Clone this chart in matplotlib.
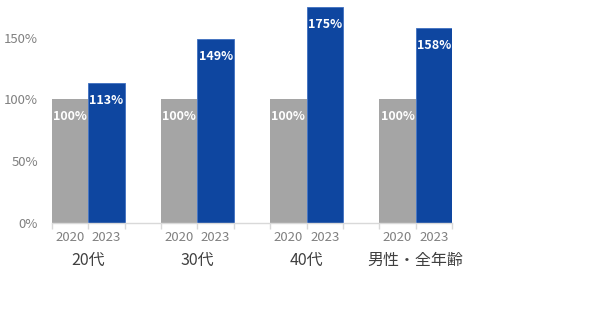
import matplotlib
matplotlib.use("Agg")
import matplotlib.pyplot as plt
import matplotlib.transforms as mtransforms

plt.rcParams['font.family'] = ['Noto Sans CJK JP', 'DejaVu Sans']

groups = ["20代", "30代", "40代", "男性・全年齢"]
years = ["2020", "2023"]
values_2020 = [100, 100, 100, 100]
values_2023 = [113, 149, 175, 158]
yticks = [0, 50, 100, 150]
ytick_labels = ["0%", "50%", "100%", "150%"]

gray = "#A5A5A5"
blue = "#0E46A0"
axis_gray = "#D9D9D9"
tick_text = "#808080"
group_text = "#404040"

fig = plt.figure(figsize=(6.04, 3.23), dpi=100)
ax = fig.add_axes([52 / 604, 100.5 / 323, 400 / 604, 221.5 / 323])

# each group occupies three category slots: 2020, 2023, and an empty spacer
n_slots = len(groups) * 3 - 1
x2020 = [g * 3 for g in range(len(groups))]
x2023 = [g * 3 + 1 for g in range(len(groups))]

b1 = ax.bar(x2020, values_2020, width=1.0, color=gray, edgecolor='none')
b2 = ax.bar(x2023, values_2023, width=1.0, color=blue, edgecolor='#3F6FC0', linewidth=0.6)

for bars, vals in ((b1, values_2020), (b2, values_2023)):
    for rect, v in zip(bars, vals):
        ax.annotate(f"{v}%", (rect.get_x() + rect.get_width() / 2, v),
                    xytext=(0, -12.5), textcoords='offset points',
                    ha='center', va='center', color='white',
                    fontsize=9, fontweight='bold')

ax.set_xlim(-0.5, n_slots - 0.5)
ax.set_ylim(0, 180)

ax.set_yticks(yticks)
ax.set_yticklabels(ytick_labels)
ax.tick_params(axis='y', length=0, pad=10, labelsize=9.5, labelcolor=tick_text)

# tick marks at every slot boundary, year labels at bar centres
ax.set_xticks([i - 0.5 for i in range(n_slots + 1)])
ax.set_xticklabels([])
ax.tick_params(axis='x', which='major', length=4, width=1, color=axis_gray)
minor_pos = []
minor_lab = []
for g in range(len(groups)):
    minor_pos += [g * 3, g * 3 + 1]
    minor_lab += years
ax.set_xticks(minor_pos, minor=True)
ax.set_xticklabels(minor_lab, minor=True)
ax.tick_params(axis='x', which='minor', length=0, pad=6, labelsize=9.5, labelcolor=tick_text)

trans = mtransforms.blended_transform_factory(ax.transData, ax.transAxes)
for g, name in enumerate(groups):
    ax.annotate(name, (g * 3 + 0.5, 0), xycoords=trans,
                xytext=(0, -27), textcoords='offset points',
                ha='center', va='center', fontsize=11.5, color=group_text)

for side in ('top', 'right', 'left'):
    ax.spines[side].set_visible(False)
ax.spines['bottom'].set_color(axis_gray)
ax.spines['bottom'].set_linewidth(1)

fig.savefig("out.png", dpi=100)
